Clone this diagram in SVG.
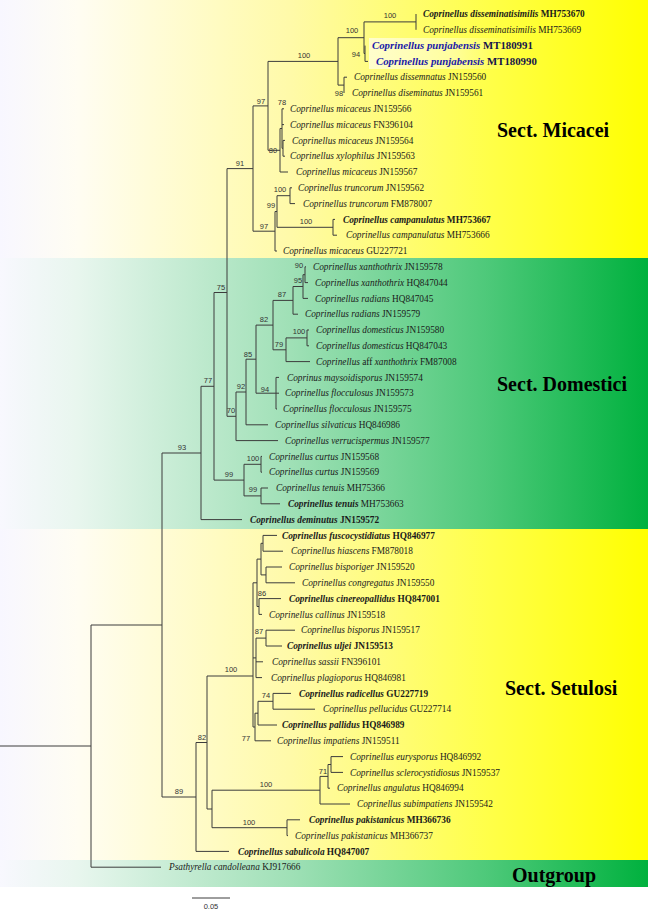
<svg xmlns="http://www.w3.org/2000/svg" width="648" height="910" viewBox="0 0 648 910">
<defs>
<linearGradient id="gy" x1="0" y1="0" x2="1" y2="0">
<stop offset="0" stop-color="#f8f7ff"/>
<stop offset="0.12" stop-color="#fffdf2"/>
<stop offset="0.45" stop-color="#fffaa8"/>
<stop offset="0.75" stop-color="#ffff4a"/>
<stop offset="1" stop-color="#ffff00"/>
</linearGradient>
<linearGradient id="gg" x1="0" y1="0" x2="1" y2="0">
<stop offset="0" stop-color="#f8f8fe"/>
<stop offset="0.12" stop-color="#e8f6ee"/>
<stop offset="0.45" stop-color="#9fe0b6"/>
<stop offset="0.75" stop-color="#4ec97a"/>
<stop offset="1" stop-color="#00b13e"/>
</linearGradient>
<linearGradient id="gh" x1="0" y1="0" x2="1" y2="0">
<stop offset="0" stop-color="#ffffff" stop-opacity="0.6"/>
<stop offset="0.6" stop-color="#ffffff" stop-opacity="0.4"/>
<stop offset="1" stop-color="#ffffff" stop-opacity="0"/>
</linearGradient>
</defs>
<style>
.br{stroke:#3c3c3c;stroke-width:1;fill:none}
.tip{font-family:"Liberation Serif","Times New Roman",serif;font-size:9.3px;fill:#1a1a1a}
.sp{font-style:italic}
.b{font-weight:bold}
.pj{font-size:10.8px;font-weight:bold;fill:#1a1aa8}
.pja{fill:#14144a}
.bs{font-family:"Liberation Sans",Arial,sans-serif;font-size:7.5px;fill:#333;text-anchor:middle}
.sect{font-family:"Liberation Serif","Times New Roman",serif;font-weight:bold;font-size:20px;fill:#000}
</style>
<g id="background">
<rect x="0" y="0" width="648" height="258" fill="url(#gy)"/>
<rect x="0" y="258" width="648" height="271" fill="url(#gg)"/>
<rect x="0" y="529" width="648" height="331" fill="url(#gy)"/>
<rect x="0" y="860" width="648" height="27" fill="url(#gg)"/>
<rect x="0" y="887" width="648" height="23" fill="#ffffff"/>
<rect x="369" y="38" width="140" height="31" fill="url(#gh)"/>
</g>
<g id="connectors">
<path class="br" d="M416,14V29.8 M364,21.9V53.5 M364,21.9H416 M364,53.5H365 M365,45.6V61.4 M365,61.4H368 M344,77.2V93 M344,77.2H347 M338,37.7V85.1 M338,37.7H364 M338,85.1H344 M282,108.8V148.3 M282,108.8H284 M282,124.6H284 M282,148.3H283 M283,140.4V156.2 M283,140.4H285 M283,156.2H285 M280,128.5V172 M280,128.5H282 M280,172H288 M268,61.4V150.3 M268,61.4H338 M268,150.3H280 M290,187.8V203.6 M290,187.8H292 M290,203.6H295 M333,219.4V235.2 M333,219.4H335 M333,235.2H337 M277,195.7V227.3 M277,195.7H290 M277,227.3H333 M275,211.5V251 M275,211.5H277 M275,251H277 M253,105.9V231.2 M253,105.9H268 M253,231.2H275"/>
<path class="br" d="M305,266.8V282.6 M305,266.8H306 M305,282.6H308 M303,274.7V298.4 M303,274.7H305 M303,298.4H308 M293,286.5V314.2 M293,286.5H303 M293,314.2H298 M307,330V345.8 M307,330H309 M307,345.8H309 M286,337.9V361.6 M286,337.9H307 M286,361.6H310 M273,300.4V349.8 M273,300.4H293 M273,349.8H286 M276,377.4V409 M276,377.4H279 M276,393.2H279 M276,409H277 M256,325.1V393.2 M256,325.1H273 M256,393.2H276 M246,359.2V424.8 M246,359.2H256 M246,424.8H268 M236,392V440.6 M236,392H246 M236,440.6H278 M261,456.4V472.2 M261,456.4H262 M261,472.2H262 M261,488V503.8 M261,488H268 M261,503.8H280 M244,464.3V495.9 M244,464.3H261 M244,495.9H261 M227,168.6V416.3 M227,168.6H253 M227,416.3H236 M214,292.5V480.1 M214,292.5H227 M214,480.1H244 M201,386.3V519.6 M201,386.3H214 M201,519.6H242"/>
<path class="br" d="M263,535.4V551.2 M263,535.4H277 M263,551.2H283 M266,567V582.8 M266,567H282 M266,582.8H295 M261,543.3V574.9 M261,543.3H263 M261,574.9H266 M259,598.6V614.4 M259,598.6H281 M259,614.4H262 M257,559.1V606.5 M257,559.1H261 M257,606.5H259 M266,630.2V646 M266,630.2H295 M266,646H282 M256,638.1V677.6 M256,638.1H266 M256,661.8H263 M256,677.6H262 M273,693.4V709.2 M273,693.4H291 M273,709.2H315 M258,701.3V725 M258,701.3H273 M258,725H277 M255,713.2V740.8 M255,713.2H258 M255,740.8H271 M253,582.8V727 M253,582.8H257 M253,657.9H256 M253,727H255 M331,756.6V772.4 M331,756.6H343 M331,772.4H343 M328,764.5V788.2 M328,764.5H331 M328,788.2H330 M320,776.4V804 M320,776.4H328 M320,804H350 M287,819.8V835.6 M287,819.8H300 M287,835.6H288 M212,790.2V827.7 M212,790.2H320 M212,827.7H287 M207,676V809 M207,676H253 M207,809H212 M196,742.5V851.4 M196,742.5H207 M196,851.4H229 M162,453V797 M162,453H201 M162,797H196 M91,625V867.2 M91,625H162 M91,867.2H161 M0,746H91"/>
</g>
<g id="support">
<text class="bs" x="390" y="17.5">100</text>
<text class="bs" x="352" y="33">100</text>
<text class="bs" x="356" y="57">94</text>
<text class="bs" x="339" y="96">98</text>
<text class="bs" x="304" y="58">100</text>
<text class="bs" x="282" y="105">78</text>
<text class="bs" x="273" y="153">80</text>
<text class="bs" x="261" y="104">97</text>
<text class="bs" x="280" y="192">100</text>
<text class="bs" x="306" y="224">100</text>
<text class="bs" x="271" y="208">99</text>
<text class="bs" x="264" y="229">97</text>
<text class="bs" x="240" y="166">91</text>
<text class="bs" x="299" y="268">90</text>
<text class="bs" x="298" y="283">95</text>
<text class="bs" x="282" y="297">87</text>
<text class="bs" x="299" y="334">100</text>
<text class="bs" x="279" y="347">79</text>
<text class="bs" x="264" y="322">82</text>
<text class="bs" x="265" y="392">94</text>
<text class="bs" x="248" y="357">85</text>
<text class="bs" x="241" y="389">92</text>
<text class="bs" x="231" y="413">70</text>
<text class="bs" x="253" y="461">100</text>
<text class="bs" x="253" y="492">99</text>
<text class="bs" x="229" y="477">99</text>
<text class="bs" x="221" y="290">75</text>
<text class="bs" x="208" y="383">77</text>
<text class="bs" x="182" y="450">93</text>
<text class="bs" x="262" y="596">86</text>
<text class="bs" x="259" y="634">87</text>
<text class="bs" x="266" y="698">74</text>
<text class="bs" x="246" y="741">77</text>
<text class="bs" x="231" y="672">100</text>
<text class="bs" x="323" y="774">71</text>
<text class="bs" x="266" y="787">100</text>
<text class="bs" x="249" y="825">100</text>
<text class="bs" x="202" y="740">82</text>
<text class="bs" x="179" y="794">89</text>
</g>
<g id="tips">
<g id="t01"><text class="tip b" x="423" y="17.2"><tspan class="sp">Coprinellus disseminatisimilis</tspan> MH753670</text></g>
<g id="t02"><text class="tip" x="423" y="33"><tspan class="sp">Coprinellus disseminatisimilis</tspan> MH753669</text></g>
<g id="t03"><text class="tip pj" x="372" y="49.3"><tspan class="sp">Coprinellus punjabensis</tspan><tspan class="pja"> MT180991</tspan></text></g>
<g id="t04"><text class="tip pj" x="376" y="65.1"><tspan class="sp">Coprinellus punjabensis</tspan><tspan class="pja"> MT180990</tspan></text></g>
<g id="t05"><text class="tip" x="354" y="80.4"><tspan class="sp">Coprinellus dissemnatus</tspan> JN159560</text></g>
<g id="t06"><text class="tip" x="352" y="96.2"><tspan class="sp">Coprinellus diseminatus</tspan> JN159561</text></g>
<g id="t07"><text class="tip" x="290" y="112"><tspan class="sp">Coprinellus micaceus</tspan> JN159566</text></g>
<g id="t08"><text class="tip" x="290" y="127.8"><tspan class="sp">Coprinellus micaceus</tspan> FN396104</text></g>
<g id="t09"><text class="tip" x="292" y="143.6"><tspan class="sp">Coprinellus micaceus</tspan> JN159564</text></g>
<g id="t10"><text class="tip" x="290" y="159.4"><tspan class="sp">Coprinellus xylophilus</tspan> JN159563</text></g>
<g id="t11"><text class="tip" x="296" y="175.2"><tspan class="sp">Coprinellus micaceus</tspan> JN159567</text></g>
<g id="t12"><text class="tip" x="298" y="191"><tspan class="sp">Coprinellus truncorum</tspan> JN159562</text></g>
<g id="t13"><text class="tip" x="303" y="206.8"><tspan class="sp">Coprinellus truncorum</tspan> FM878007</text></g>
<g id="t14"><text class="tip b" x="343" y="222.6"><tspan class="sp">Coprinellus campanulatus</tspan> MH753667</text></g>
<g id="t15"><text class="tip" x="346" y="238.4"><tspan class="sp">Coprinellus campanulatus</tspan> MH753666</text></g>
<g id="t16"><text class="tip" x="283" y="254.2"><tspan class="sp">Coprinellus micaceus</tspan> GU227721</text></g>
<g id="t17"><text class="tip" x="313" y="270"><tspan class="sp">Coprinellus xanthothrix</tspan> JN159578</text></g>
<g id="t18"><text class="tip" x="315" y="285.8"><tspan class="sp">Coprinellus xanthothrix</tspan> HQ847044</text></g>
<g id="t19"><text class="tip" x="315" y="301.6"><tspan class="sp">Coprinellus radians</tspan> HQ847045</text></g>
<g id="t20"><text class="tip" x="305" y="317.4"><tspan class="sp">Coprinellus radians</tspan> JN159579</text></g>
<g id="t21"><text class="tip" x="316" y="333.2"><tspan class="sp">Coprinellus domesticus</tspan> JN159580</text></g>
<g id="t22"><text class="tip" x="316" y="349"><tspan class="sp">Coprinellus domesticus</tspan> HQ847043</text></g>
<g id="t23"><text class="tip" x="316" y="364.8"><tspan class="sp">Coprinellus</tspan> aff <tspan class="sp">xanthothrix</tspan> FM87008</text></g>
<g id="t24"><text class="tip" x="287" y="380.6"><tspan class="sp">Coprinus maysoidisporus</tspan> JN159574</text></g>
<g id="t25"><text class="tip" x="285" y="396.4"><tspan class="sp">Coprinellus flocculosus</tspan> JN159573</text></g>
<g id="t26"><text class="tip" x="283" y="412.2"><tspan class="sp">Coprinellus flocculosus</tspan> JN159575</text></g>
<g id="t27"><text class="tip" x="275" y="428"><tspan class="sp">Coprinellus silvaticus</tspan> HQ846986</text></g>
<g id="t28"><text class="tip" x="285" y="443.8"><tspan class="sp">Coprinellus verrucispermus</tspan> JN159577</text></g>
<g id="t29"><text class="tip" x="269" y="459.6"><tspan class="sp">Coprinellus curtus</tspan> JN159568</text></g>
<g id="t30"><text class="tip" x="269" y="475.4"><tspan class="sp">Coprinellus curtus</tspan> JN159569</text></g>
<g id="t31"><text class="tip" x="276" y="491.2"><tspan class="sp">Coprinellus tenuis</tspan> MH75366</text></g>
<g id="t32"><text class="tip" x="288" y="507"><tspan class="sp b">Coprinellus tenuis</tspan> MH753663</text></g>
<g id="t33"><text class="tip b" x="250" y="522.8"><tspan class="sp">Coprinellus deminutus</tspan> JN159572</text></g>
<g id="t34"><text class="tip b" x="282" y="538.6"><tspan class="sp">Coprinellus fuscocystidiatus</tspan> HQ846977</text></g>
<g id="t35"><text class="tip" x="291" y="554.4"><tspan class="sp">Coprinellus hiascens</tspan> FM878018</text></g>
<g id="t36"><text class="tip" x="289" y="570.2"><tspan class="sp">Coprinellus bisporiger</tspan> JN159520</text></g>
<g id="t37"><text class="tip" x="302" y="586"><tspan class="sp">Coprinellus congregatus</tspan> JN159550</text></g>
<g id="t38"><text class="tip b" x="289" y="601.8"><tspan class="sp">Coprinellus cinereopallidus</tspan> HQ847001</text></g>
<g id="t39"><text class="tip" x="269" y="617.6"><tspan class="sp">Coprinellus callinus</tspan> JN159518</text></g>
<g id="t40"><text class="tip" x="301" y="633.4"><tspan class="sp">Coprinellus bisporus</tspan> JN159517</text></g>
<g id="t41"><text class="tip b" x="287" y="649.2"><tspan class="sp">Coprinellus uljei</tspan> JN159513</text></g>
<g id="t42"><text class="tip" x="272" y="665"><tspan class="sp">Coprinellus sassii</tspan> FN396101</text></g>
<g id="t43"><text class="tip" x="271" y="680.8"><tspan class="sp">Coprinellus plagioporus</tspan> HQ846981</text></g>
<g id="t44"><text class="tip b" x="299" y="696.6"><tspan class="sp">Coprinellus radicellus</tspan> GU227719</text></g>
<g id="t45"><text class="tip" x="323" y="712.4"><tspan class="sp">Coprinellus pellucidus</tspan> GU227714</text></g>
<g id="t46"><text class="tip b" x="282" y="728.2"><tspan class="sp">Coprinellus pallidus</tspan> HQ846989</text></g>
<g id="t47"><text class="tip" x="277" y="744"><tspan class="sp">Coprinellus impatiens</tspan> JN159511</text></g>
<g id="t48"><text class="tip" x="350" y="759.8"><tspan class="sp">Coprinellus eurysporus</tspan> HQ846992</text></g>
<g id="t49"><text class="tip" x="350" y="775.6"><tspan class="sp">Coprinellus sclerocystidiosus</tspan> JN159537</text></g>
<g id="t50"><text class="tip" x="337" y="791.4"><tspan class="sp">Coprinellus angulatus</tspan> HQ846994</text></g>
<g id="t51"><text class="tip" x="357" y="807.2"><tspan class="sp">Coprinellus subimpatiens</tspan> JN159542</text></g>
<g id="t52"><text class="tip b" x="309" y="823"><tspan class="sp">Coprinellus pakistanicus</tspan> MH366736</text></g>
<g id="t53"><text class="tip" x="295" y="838.8"><tspan class="sp">Coprinellus pakistanicus</tspan> MH366737</text></g>
<g id="t54"><text class="tip b" x="238" y="854.6"><tspan class="sp">Coprinellus sabulicola</tspan> HQ847007</text></g>
<g id="t55"><text class="tip" x="169" y="870.4"><tspan class="sp">Psathyrella candolleana</tspan> KJ917666</text></g>
</g>
<g id="sections">
<text class="sect" x="497" y="137">Sect. Micacei</text>
<text class="sect" x="497" y="391">Sect. Domestici</text>
<text class="sect" x="505" y="695">Sect. Setulosi</text>
<text class="sect" x="512" y="882">Outgroup</text>
</g>
<g id="scale">
<path class="br" d="M192,898H230"/>
<text class="bs" x="211" y="909">0.05</text>
</g>
</svg>
